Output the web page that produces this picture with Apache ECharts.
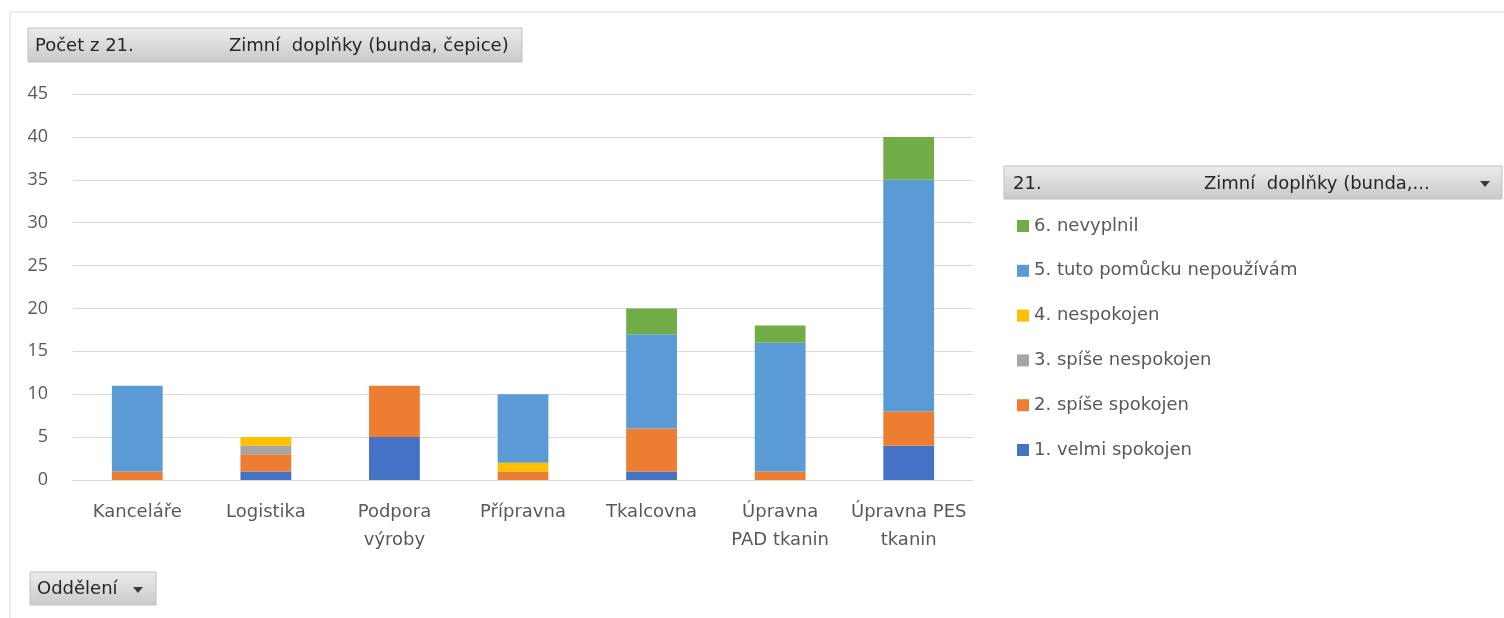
<!DOCTYPE html>
<html>
<head>
<meta charset="utf-8">
<script src="https://cdn.jsdelivr.net/npm/echarts@6/dist/echarts.min.js"></script>
<style>
  html, body { margin: 0; padding: 0; background: #fff; }
  #chart { width: 1504px; height: 618px; }
</style>
</head>
<body>
<div id="chart"></div>
<script>
// Oddělení (categories)
const categories = ['Kanceláře', 'Logistika', 'Podpora\nvýroby', 'Přípravna', 'Tkalcovna', 'Úpravna\nPAD tkanin', 'Úpravna PES\ntkanin'];

// Counts per answer
const velmiSpokojen     = [0, 1, 5, 0, 1, 0, 4];
const spiseSpokojen     = [1, 2, 6, 1, 5, 1, 4];
const spiseNespokojen   = [0, 1, 0, 0, 0, 0, 0];
const nespokojen        = [0, 1, 0, 1, 0, 0, 0];
const nepouzivam        = [10, 0, 0, 8, 11, 15, 27];
const nevyplnil         = [0, 0, 0, 0, 3, 2, 5];

const seriesNames = ['1. velmi spokojen', '2. spíše spokojen', '3. spíše nespokojen', '4. nespokojen', '5. tuto pomůcku nepoužívám', '6. nevyplnil'];
const seriesValues = [velmiSpokojen, spiseSpokojen, spiseNespokojen, nespokojen, nepouzivam, nevyplnil];
const colors = ['#4472C4', '#ED7D31', '#A5A5A5', '#FFC000', '#5B9BD5', '#70AD47'];

const yTicks = { min: 0, max: 45, interval: 5 };

const FONT = '"DejaVu Sans", "Open Sans", sans-serif';
const NUM_FONT = '"Open Sans", sans-serif';
const btnFill = new echarts.graphic.LinearGradient(0, 0, 0, 1, [
  { offset: 0, color: '#ececec' },
  { offset: 1, color: '#c9c9c9' }
]);

function btnText(x, y, text) {
  return { type: 'text', style: { x: x, y: y, text: text, font: '18px ' + FONT, fill: '#262626', verticalAlign: 'middle' } };
}

const chart = echarts.init(document.getElementById('chart'));
chart.setOption({
  animation: false,
  textStyle: { fontFamily: FONT },
  grid: { left: 73, right: 531, top: 94, bottom: 138 },
  legend: {
    orient: 'vertical',
    left: 1012,
    top: 212,
    itemWidth: 12,
    itemHeight: 12,
    itemGap: 26.8,
    icon: 'rect',
    data: seriesNames.slice().reverse(),
    textStyle: { fontSize: 18, color: '#595959', fontFamily: FONT, padding: [0, 0, 0, 0] },
    selectedMode: false
  },
  xAxis: {
    type: 'category',
    data: categories,
    axisLine: { show: true, lineStyle: { color: '#d9d9d9', width: 1 } },
    axisTick: { show: false },
    axisLabel: { fontSize: 18, color: '#595959', lineHeight: 28, margin: 18, interval: 0, fontFamily: FONT }
  },
  yAxis: {
    type: 'value',
    min: yTicks.min,
    max: yTicks.max,
    interval: yTicks.interval,
    axisLine: { show: false },
    axisTick: { show: false },
    splitLine: { lineStyle: { color: '#d9d9d9', width: 1 } },
    axisLabel: { fontSize: 18, color: '#595959', margin: 25, fontFamily: NUM_FONT }
  },
  series: seriesNames.map((name, i) => ({
    name: name,
    type: 'bar',
    stack: 'total',
    barWidth: '39.5%',
    data: seriesValues[i],
    itemStyle: { color: colors[i] }
  })),
  graphic: [
    // outer frame
    { type: 'polyline', shape: { points: [[10, 618], [10, 12], [1504, 12]] }, style: { stroke: '#d9d9d9', lineWidth: 1, fill: null } },
    // value field button
    { type: 'rect', shape: { x: 28, y: 28, width: 494, height: 34 }, style: { fill: btnFill, stroke: '#c0c0c0', lineWidth: 1 } },
    btnText(35, 46, 'Počet z 21.'),
    btnText(229, 46, 'Zimní  doplňky (bunda, čepice)'),
    // legend field button
    { type: 'rect', shape: { x: 1004, y: 166, width: 498, height: 33 }, style: { fill: btnFill, stroke: '#c0c0c0', lineWidth: 1 } },
    btnText(1013, 184, '21.'),
    btnText(1204, 184, 'Zimní  doplňky (bunda,...'),
    { type: 'polygon', shape: { points: [[1480, 181], [1490, 181], [1485, 187]] }, style: { fill: '#3a3a3a' } },
    // axis field button
    { type: 'rect', shape: { x: 30, y: 572, width: 126, height: 33 }, style: { fill: btnFill, stroke: '#c0c0c0', lineWidth: 1 } },
    btnText(37, 589, 'Oddělení'),
    { type: 'polygon', shape: { points: [[133, 587], [143, 587], [138, 593]] }, style: { fill: '#3a3a3a' } }
  ]
});
</script>
</body>
</html>
